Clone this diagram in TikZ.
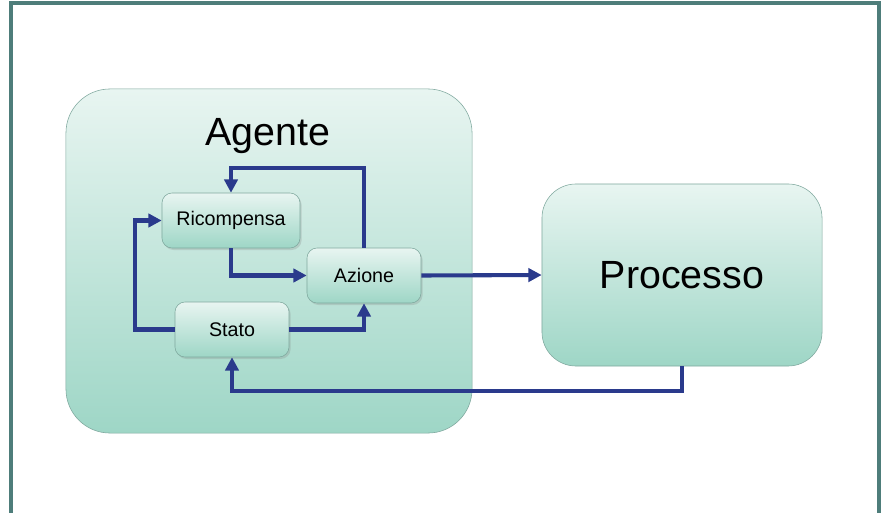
\documentclass[tikz,border=0pt]{standalone}
\usepackage{fontspec}
\setmainfont{Liberation Sans}
\usepackage{tikz}
\usetikzlibrary{arrows.meta, positioning, shadows}
\definecolor{framecol}{HTML}{4E7D7A}
\definecolor{boxtop}{HTML}{E8F5F1}
\definecolor{boxbottom}{HTML}{9ED6C6}
\definecolor{boxline}{HTML}{7FA89E}
\definecolor{linkcol}{HTML}{2A3A8C}
\tikzstyle{bigbox} = [rectangle, rounded corners=1.1cm, draw=boxline, thin, top color=boxtop, bottom color=boxbottom, text centered]
\tikzstyle{smallbox} = [rectangle, rounded corners=0.25cm, draw=boxline, thin, top color=boxtop, bottom color=boxbottom, minimum height=1.375cm, text centered, font=\fontsize{14}{16}\selectfont, drop shadow={opacity=0.25, shadow xshift=0.04cm, shadow yshift=-0.05cm}]
\tikzstyle{arrow} = [draw=linkcol, line width=2.9pt, -{Triangle[length=9.5pt,width=9.5pt]}]

\begin{document}
\begin{tikzpicture}[x=0.025cm, y=-0.025cm]
\useasboundingbox (0,0) rectangle (882,513);

% Frame
\draw [framecol, line width=2.6pt] (11,513) -- (11,3) -- (879,3) -- (879,513);

% Agent and process
\node (agente) [bigbox, minimum width=10.15cm, minimum height=8.6cm] at (269,261) {};
\node (agentelabel) [anchor=base, font=\fontsize{28}{32}\selectfont] at (268,145) {Agente};
\node (processo) [bigbox, rounded corners=0.85cm, minimum width=7cm, minimum height=4.55cm, font=\fontsize{28}{32}\selectfont] at (682,275) {Processo};

% Inner boxes
\node (ricompensa) [smallbox, minimum width=3.45cm] at (231,220.5) {Ricompensa};
\node (azione) [smallbox, minimum width=2.85cm] at (364,275.5) {Azione};
\node (stato) [smallbox, minimum width=2.85cm] at (232,329.5) {Stato};

% Connections
\draw [arrow] (azione.north) -- ++(0,-80) -| (ricompensa.north);
\draw [arrow] (ricompensa.south) |- (azione.west);
\draw [arrow] (stato.west) -- ++(-40,0) |- (ricompensa.west);
\draw [arrow] (stato.east) -| (azione.south);
\draw [arrow] (azione.east) -- (processo.west);
\draw [arrow] (processo.south) -- ++(0,25) -| (stato.south);

\end{tikzpicture}
\end{document}
